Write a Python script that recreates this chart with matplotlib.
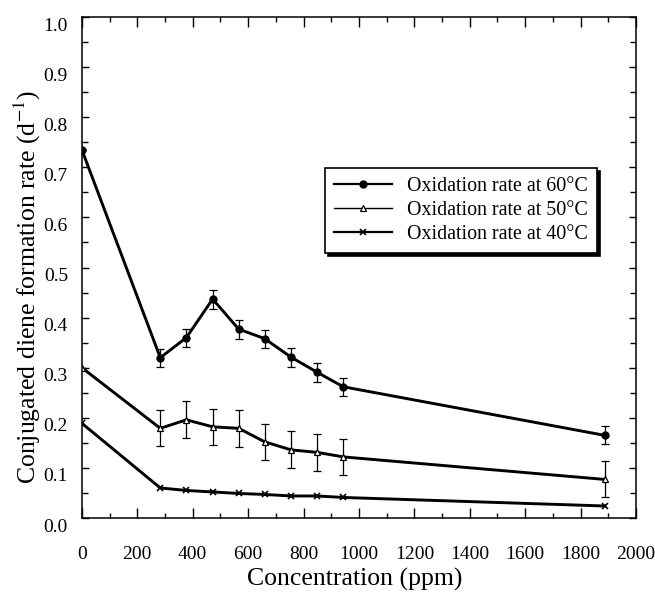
import matplotlib
matplotlib.use('Agg')
import matplotlib.pyplot as plt
import matplotlib.transforms as mtrans
from matplotlib.ticker import MultipleLocator
from matplotlib.lines import Line2D

plt.rcParams['font.family'] = ['Liberation Serif', 'DejaVu Serif']
plt.rcParams['mathtext.fontset'] = 'stix'

conc = [0, 283, 377, 472, 566, 660, 755, 849, 943, 1887]

rate_60 = [0.735, 0.320, 0.360, 0.437, 0.377, 0.358, 0.321, 0.291, 0.262, 0.165]
err_60 = [0.0, 0.018, 0.018, 0.019, 0.019, 0.018, 0.019, 0.019, 0.018, 0.018]

rate_50 = [0.300, 0.179, 0.196, 0.182, 0.179, 0.152, 0.136, 0.131, 0.122, 0.077]
err_50 = [0.0, 0.036, 0.037, 0.036, 0.037, 0.036, 0.037, 0.037, 0.036, 0.036]

rate_40 = [0.189, 0.060, 0.055, 0.052, 0.049, 0.047, 0.044, 0.044, 0.041, 0.024]

labels = ['Oxidation rate at 60°C', 'Oxidation rate at 50°C', 'Oxidation rate at 40°C']

fig = plt.figure(figsize=(6.55, 5.95), dpi=100)
ax = fig.add_axes([0.125, 0.1294, 0.846, 0.842])

lw = 2.1
ax.errorbar(conc, rate_60, yerr=err_60, color='black', lw=lw, marker='o', ms=5,
            capsize=3, elinewidth=0.9, capthick=0.9)
ax.errorbar(conc, rate_50, yerr=err_50, color='black', lw=lw, marker='^', ms=4.5,
            mfc='white', mew=0.9, capsize=3, elinewidth=0.9, capthick=0.9)
ax.plot(conc, rate_40, color='black', lw=lw, marker='x', ms=4.5, mew=1.2)

ax.set_xlim(0, 2000)
ax.set_ylim(0, 1.0)
ax.xaxis.set_major_locator(MultipleLocator(200))
ax.xaxis.set_minor_locator(MultipleLocator(100))
ax.yaxis.set_major_locator(MultipleLocator(0.1))
ax.yaxis.set_minor_locator(MultipleLocator(0.05))
ax.yaxis.set_major_formatter(matplotlib.ticker.FormatStrFormatter('%.1f'))

ax.tick_params(axis='both', which='both', direction='in', top=True, right=True, width=1.0)
ax.tick_params(axis='x', which='major', length=7, pad=20, labelsize=14)
ax.tick_params(axis='x', which='minor', length=3.5)
ax.tick_params(axis='y', which='major', length=5, pad=10, labelsize=14)
ax.tick_params(axis='y', which='minor', length=4)
for sp in ax.spines.values():
    sp.set_linewidth(1.1)

# labels on the y axis sit a little below their ticks in the original
shift = mtrans.ScaledTranslation(0, -7 / 100, fig.dpi_scale_trans)
for lab in ax.get_yticklabels():
    lab.set_transform(lab.get_transform() + shift)

ax.set_xlabel('Concentration (ppm)', fontsize=18.5)
ax.xaxis.set_label_coords(0.493, -0.099)
ax.set_ylabel('Conjugated diene formation rate (d$^{-1}$)', fontsize=18.5)
ax.yaxis.set_label_coords(-0.07, 0.462)

handles = [
    Line2D([], [], color='black', lw=1.6, marker='o', ms=5),
    Line2D([], [], color='black', lw=1.0, marker='^', ms=4.5, mfc='white', mew=0.9),
    Line2D([], [], color='black', lw=1.6, marker='x', ms=4.5, mew=1.2),
]
leg = ax.legend(handles, labels, loc='upper left', bbox_to_anchor=(0.439, 0.699),
                borderaxespad=0, fontsize=14.4, handlelength=2.9, labelspacing=0.25,
                fancybox=False, edgecolor='black', framealpha=1,
                shadow={'color': 'black', 'alpha': 1, 'ox': 2, 'oy': -2},
                borderpad=0.45, handletextpad=0.75)
leg.get_frame().set_linewidth(1.2)

fig.savefig('out.png', dpi=100)
